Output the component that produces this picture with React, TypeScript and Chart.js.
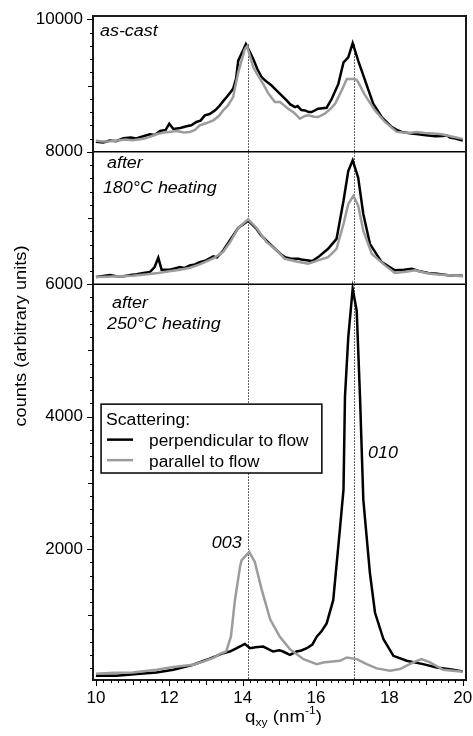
import React, { useEffect, useRef } from 'react';
import { Chart, registerables } from 'chart.js';

Chart.register(...registerables);

// ---------- data (q_xy in nm^-1, counts in arbitrary units, panel-offset as plotted) ----------
// Panel 1: as-cast
const asCastPerpQ = [10.0, 10.2, 10.38, 10.55, 10.75, 10.95, 11.1, 11.29, 11.47, 11.6, 11.75, 11.9, 12.0, 12.11, 12.3, 12.47, 12.6, 12.74, 12.85, 12.97, 13.1, 13.25, 13.35, 13.47, 13.6, 13.74, 13.82, 13.88, 14.09, 14.29, 14.4, 14.52, 14.65, 14.79, 14.88, 15.02, 15.2, 15.3, 15.43, 15.5, 15.6, 15.7, 15.8, 15.88, 16.06, 16.29, 16.43, 16.61, 16.75, 16.88, 17.0, 17.15, 17.34, 17.56, 17.79, 18.06, 18.2, 18.34, 18.55, 18.79, 19.0, 19.25, 19.45, 19.56, 19.65, 19.8, 20.0];
const asCastPerpCounts = [8150, 8140, 8170, 8160, 8205, 8215, 8200, 8235, 8265, 8255, 8315, 8330, 8425, 8345, 8360, 8385, 8400, 8450, 8470, 8550, 8570, 8625, 8680, 8765, 8850, 8950, 9100, 9375, 9625, 9400, 9250, 9125, 9060, 9000, 8950, 8875, 8775, 8715, 8675, 8690, 8630, 8625, 8600, 8600, 8650, 8665, 8800, 9025, 9350, 9425, 9640, 9375, 9075, 8725, 8525, 8375, 8330, 8300, 8280, 8265, 8250, 8235, 8240, 8250, 8215, 8200, 8170];
const asCastParQ = [10.0, 10.2, 10.4, 10.6, 10.8, 11.0, 11.3, 11.47, 11.65, 11.85, 12.0, 12.2, 12.4, 12.56, 12.7, 12.83, 13.0, 13.2, 13.35, 13.47, 13.6, 13.74, 13.88, 14.06, 14.12, 14.29, 14.42, 14.56, 14.68, 14.79, 14.88, 15.02, 15.24, 15.4, 15.56, 15.7, 15.79, 15.95, 16.06, 16.24, 16.4, 16.52, 16.7, 16.84, 17.02, 17.1, 17.15, 17.34, 17.61, 17.88, 18.2, 18.52, 18.75, 18.97, 19.2, 19.43, 19.7, 20.0];
const asCastParCounts = [8165, 8155, 8160, 8170, 8185, 8175, 8195, 8225, 8265, 8290, 8300, 8315, 8290, 8300, 8330, 8400, 8430, 8475, 8540, 8625, 8700, 8825, 9200, 9550, 9590, 9275, 9150, 9025, 8900, 8815, 8750, 8750, 8650, 8590, 8500, 8540, 8550, 8530, 8525, 8575, 8650, 8725, 8925, 9100, 9100, 9090, 9050, 8850, 8625, 8450, 8300, 8285, 8300, 8285, 8275, 8265, 8230, 8195];

// Panel 2: after 180 °C heating
const heat180PerpQ = [10.0, 10.2, 10.38, 10.55, 10.75, 10.95, 11.11, 11.3, 11.47, 11.6, 11.7, 11.79, 12.02, 12.15, 12.29, 12.4, 12.56, 12.7, 12.83, 13.0, 13.2, 13.3, 13.47, 13.65, 13.88, 14.15, 14.38, 14.5, 14.65, 14.8, 14.93, 15.05, 15.15, 15.3, 15.52, 15.6, 15.79, 15.9, 16.06, 16.33, 16.56, 16.75, 16.88, 17.0, 17.15, 17.29, 17.47, 17.79, 18.15, 18.4, 18.61, 18.8, 19.06, 19.3, 19.61, 19.8, 20.0];
const heat180PerpCounts = [6110, 6125, 6140, 6120, 6120, 6140, 6150, 6170, 6185, 6260, 6400, 6220, 6220, 6240, 6260, 6245, 6285, 6300, 6335, 6360, 6420, 6405, 6510, 6660, 6850, 6960, 6835, 6740, 6660, 6580, 6510, 6450, 6410, 6390, 6385, 6375, 6360, 6350, 6410, 6535, 6685, 7260, 7710, 7870, 7610, 7060, 6610, 6335, 6210, 6220, 6235, 6200, 6170, 6160, 6135, 6130, 6130];
const heat180ParQ = [10.0, 10.3, 10.6, 11.0, 11.4, 11.7, 12.0, 12.3, 12.56, 12.83, 13.0, 13.2, 13.47, 13.65, 13.88, 14.15, 14.38, 14.65, 14.93, 15.15, 15.5, 15.79, 16.06, 16.33, 16.56, 16.75, 16.88, 17.02, 17.15, 17.29, 17.52, 17.88, 18.15, 18.45, 18.7, 19.0, 19.25, 19.6, 20.0];
const heat180ParCounts = [6110, 6115, 6120, 6130, 6150, 6170, 6195, 6220, 6250, 6300, 6340, 6390, 6490, 6630, 6850, 6980, 6850, 6640, 6510, 6385, 6340, 6310, 6360, 6410, 6535, 6910, 7210, 7335, 7185, 6810, 6460, 6285, 6170, 6190, 6210, 6170, 6150, 6135, 6120];

// Panel 3: after 250 °C heating
const heat250PerpQ = [10.0, 10.56, 11.2, 11.65, 12.11, 12.65, 13.02, 13.47, 13.65, 13.84, 14.06, 14.2, 14.35, 14.56, 14.7, 14.83, 15.0, 15.1, 15.29, 15.47, 15.6, 15.75, 15.9, 16.02, 16.15, 16.29, 16.47, 16.66, 16.75, 16.79, 16.88, 17.0, 17.11, 17.2, 17.29, 17.34, 17.47, 17.61, 17.84, 18.11, 18.47, 18.92, 19.29, 19.74, 20.0];
const heat250PerpCounts = [90, 90, 120, 140, 180, 255, 330, 430, 455, 505, 570, 505, 520, 530, 490, 455, 475, 455, 405, 455, 470, 505, 560, 680, 760, 880, 1230, 2350, 2900, 4300, 5200, 5930, 5600, 4300, 2750, 2440, 1640, 1040, 640, 390, 315, 265, 215, 180, 155];
const heat250ParQ = [10.0, 10.5, 11.0, 11.65, 12.11, 12.65, 12.93, 13.2, 13.38, 13.55, 13.68, 13.79, 13.93, 13.97, 14.18, 14.33, 14.52, 14.75, 15.0, 15.29, 15.66, 16.02, 16.2, 16.38, 16.65, 16.84, 17.11, 17.38, 17.66, 18.02, 18.29, 18.65, 18.88, 19.11, 19.47, 19.8, 20.0];
const heat250ParCounts = [120, 135, 140, 180, 220, 255, 305, 360, 420, 455, 680, 1230, 1740, 1830, 1960, 1810, 1390, 940, 690, 490, 340, 265, 290, 300, 315, 365, 340, 265, 200, 165, 190, 290, 340, 290, 180, 160, 150];

// ---------- axes, guides and texts ----------
const xTickValues = [10, 12, 14, 16, 18, 20];
const yTickValues = [2000, 4000, 6000, 8000, 10000];
const panelDividers = [6000, 8000];
const peakGuideQ = [14.15, 17.04];
const peakGuideTop = 9620;
const seriesNames = ['perpendicular to flow', 'parallel to flow'];
const legendTitle = 'Scattering:';
const panelTexts = [['as-cast'], ['after', '180°C heating'], ['after', '250°C heating']];
const peakTexts = ['003', '010'];
const yTitle = 'counts (arbitrary units)';
const xTitleParts = ['q', 'xy', ' (nm', '-1', ')'];

const BLACK = '#000000';
const GRAY = '#9c9c9c';
const FAMILY = "'Liberation Sans', Arial, Helvetica, sans-serif";

function stretchText(ctx: any, s: string, x: number, y: number, font: string, sx: number, align: string = 'left', baseline: string = 'alphabetic') {
  ctx.save();
  ctx.font = font;
  ctx.translate(x, y);
  ctx.scale(sx, 1);
  ctx.textAlign = align;
  ctx.textBaseline = baseline;
  ctx.fillStyle = '#000';
  ctx.fillText(s, 0, 0);
  ctx.restore();
}

const decorPlugin = {
  id: 'decor',
  beforeDatasetsDraw(chart: any) {
    const { ctx, chartArea: a, scales } = chart;
    const x = scales.x, y = scales.y;
    ctx.save();
    ctx.strokeStyle = '#000';
    ctx.lineWidth = 1.5;
    panelDividers.forEach((v) => {
      const py = y.getPixelForValue(v);
      ctx.beginPath();
      ctx.moveTo(a.left, py);
      ctx.lineTo(a.right, py);
      ctx.stroke();
    });
    ctx.lineWidth = 1;
    ctx.setLineDash([1.2, 1.8]);
    peakGuideQ.forEach((q) => {
      const px = Math.round(x.getPixelForValue(q)) + 0.5;
      ctx.beginPath();
      ctx.moveTo(px, y.getPixelForValue(peakGuideTop));
      ctx.lineTo(px, a.bottom);
      ctx.stroke();
    });
    ctx.restore();
  },
  afterDraw(chart: any) {
    const { ctx, chartArea: a, scales } = chart;
    const x = scales.x, y = scales.y;
    ctx.save();
    // frame
    ctx.strokeStyle = '#1a1a1a';
    ctx.lineWidth = 2;
    ctx.strokeRect(a.left, a.top, a.right - a.left, a.bottom - a.top);
    // tick marks
    ctx.lineWidth = 1;
    ctx.strokeStyle = '#000';
    for (let v = 200; v <= 10000; v += 200) {
      const len = v % 2000 === 0 ? 6 : v % 1000 === 0 ? 5 : 3;
      const py = Math.round(y.getPixelForValue(v)) + 0.5;
      ctx.beginPath();
      ctx.moveTo(a.left - len, py);
      ctx.lineTo(a.left, py);
      ctx.stroke();
    }
    for (let i = 0; i <= 50; i++) {
      const q = 10 + i * 0.2;
      const len = i % 10 === 0 ? 6 : i % 5 === 0 ? 5 : 3;
      const px = Math.round(x.getPixelForValue(q)) + 0.5;
      ctx.beginPath();
      ctx.moveTo(px, a.bottom);
      ctx.lineTo(px, a.bottom + len);
      ctx.stroke();
    }
    // panel texts (anchored in data coordinates)
    const italic = `italic 16px ${FAMILY}`;
    const pt = (q: number, v: number) => [x.getPixelForValue(q), y.getPixelForValue(v)];
    const anchors = [
      [[10.11, 9755]],
      [[10.3, 7762], [10.19, 7380]],
      [[10.44, 5638], [10.3, 5322]],
    ];
    panelTexts.forEach((lines, i) => {
      lines.forEach((s, j) => {
        const [px, py] = pt(anchors[i][j][0], anchors[i][j][1]);
        stretchText(ctx, s, px, py, italic, 1.12);
      });
    });
    const peakAnchors = [[13.16, 2019], [17.42, 3377]];
    peakTexts.forEach((s, i) => {
      const [px, py] = pt(peakAnchors[i][0], peakAnchors[i][1]);
      stretchText(ctx, s, px, py, italic, 1.12);
    });
    // legend
    const [lx0, ly0] = pt(10.14, 4190);
    const [lx1, ly1] = pt(16.16, 3150);
    ctx.fillStyle = '#fff';
    ctx.fillRect(lx0, ly0, lx1 - lx0, ly1 - ly0);
    ctx.strokeStyle = '#000';
    ctx.lineWidth = 1.5;
    ctx.strokeRect(lx0, ly0, lx1 - lx0, ly1 - ly0);
    const lf = `16px ${FAMILY}`;
    stretchText(ctx, legendTitle, lx0 + 5, ly0 + 21, lf, 1.1);
    const cols = [BLACK, GRAY];
    seriesNames.forEach((s, i) => {
      const ly = ly0 + 35.5 + i * 20.5;
      ctx.strokeStyle = cols[i];
      ctx.lineWidth = 2.5;
      ctx.beginPath();
      ctx.moveTo(lx0 + 6, ly);
      ctx.lineTo(lx0 + 32, ly);
      ctx.stroke();
      stretchText(ctx, s, lx0 + 48, ly + 6.5, lf, 1.08);
    });
    // y title
    ctx.save();
    ctx.translate(21, (a.top + a.bottom) / 2 - 12);
    ctx.rotate(-Math.PI / 2);
    stretchText(ctx, yTitle, 0, 0, `17px ${FAMILY}`, 1.07, 'center', 'middle');
    ctx.restore();
    // x title with sub- and superscript
    const big = `17px ${FAMILY}`;
    const small = `11px ${FAMILY}`;
    const sx = 1.1;
    const fonts = [big, small, big, small, big];
    const dy = [0, 4, 0, -8, 0];
    const widths = xTitleParts.map((s, i) => {
      ctx.font = fonts[i];
      return ctx.measureText(s).width * sx;
    });
    const total = widths.reduce((p, c) => p + c, 0);
    let cx = (a.left + a.right) / 2 + 4 - total / 2;
    const base = 722;
    xTitleParts.forEach((s, i) => {
      stretchText(ctx, s, cx, base + dy[i], fonts[i], sx);
      cx += widths[i];
    });
    ctx.restore();
  },
};

const pts = (q: number[], c: number[]) => q.map((v, i) => ({ x: v, y: c[i] }));

export default function App() {
  const ref = useRef<HTMLCanvasElement | null>(null);
  useEffect(() => {
    if (!ref.current) return;
    const line = (label: string, data: any[], color: string, order: number) => ({
      label, data, borderColor: color, backgroundColor: color, borderWidth: 2.5,
      pointRadius: 0, tension: 0, fill: false, order,
    });
    const chart = new Chart(ref.current, {
      type: 'line',
      data: {
        datasets: [
          line(seriesNames[1], pts(asCastParQ, asCastParCounts), GRAY, 0),
          line(seriesNames[1], pts(heat180ParQ, heat180ParCounts), GRAY, 0),
          line(seriesNames[1], pts(heat250ParQ, heat250ParCounts), GRAY, 0),
          line(seriesNames[0], pts(asCastPerpQ, asCastPerpCounts), BLACK, 1),
          line(seriesNames[0], pts(heat180PerpQ, heat180PerpCounts), BLACK, 1),
          line(seriesNames[0], pts(heat250PerpQ, heat250PerpCounts), BLACK, 1),
        ],
      },
      options: {
        responsive: false,
        animation: false,
        devicePixelRatio: 1,
        layout: { padding: { left: 0, top: 16, right: 7, bottom: 0 } },
        plugins: { legend: { display: false }, tooltip: { enabled: false } },
        scales: {
          x: {
            type: 'linear',
            min: 9.92,
            max: 20.09,
            grid: { display: false, drawTicks: false },
            border: { display: false },
            afterBuildTicks: (s: any) => { s.ticks = xTickValues.map((v) => ({ value: v })); },
            afterFit: (s: any) => { s.height = 56; s.paddingLeft = 0; s.paddingRight = 0; },
            ticks: {
              autoSkip: false, maxRotation: 0, padding: 8, color: '#000',
              font: { family: FAMILY, size: 17 },
              callback: (v: any) => String(v),
            },
          },
          y: {
            type: 'linear',
            min: 25,
            max: 10050,
            grid: { display: false, drawTicks: false },
            border: { display: false },
            afterBuildTicks: (s: any) => { s.ticks = yTickValues.map((v) => ({ value: v })); },
            afterFit: (s: any) => { s.width = 93; s.paddingTop = 0; s.paddingBottom = 0; },
            ticks: {
              padding: 10, color: '#000',
              font: { family: FAMILY, size: 17 },
              callback: (v: any) => String(v),
            },
          },
        },
      } as any,
      plugins: [decorPlugin],
    });
    return () => chart.destroy();
  }, []);
  return (
    <div style={{ position: 'absolute', left: 0, top: 0, width: 473, height: 736, background: '#fff' }}>
      <canvas ref={ref} width={473} height={736} style={{ display: 'block' }} />
    </div>
  );
}
